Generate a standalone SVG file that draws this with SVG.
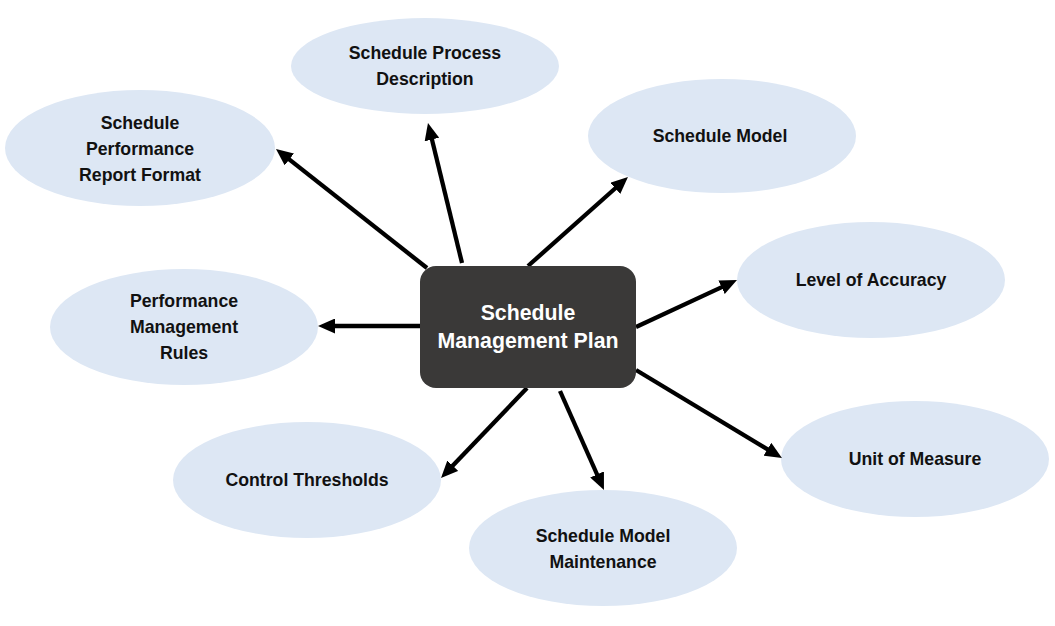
<svg xmlns="http://www.w3.org/2000/svg" width="1055" height="626" viewBox="0 0 1055 626">
<style>
.n{fill:#dde7f4}
.t{font-family:"Liberation Sans",Arial,sans-serif;font-weight:bold;font-size:17.7px;fill:#111;text-anchor:middle}
.c{font-family:"Liberation Sans",Arial,sans-serif;font-weight:bold;font-size:21.3px;fill:#fff;text-anchor:middle}
.a{stroke:#000;stroke-width:4.3;fill:none;marker-end:url(#ah)}
</style>
<defs>
<marker id="ah" markerUnits="userSpaceOnUse" viewBox="0 0 17 15" markerWidth="17" markerHeight="15" refX="5" refY="7.5" orient="auto">
<path d="M0,0 L17,7.5 L0,15 z" fill="#000"/>
</marker>
</defs>
<rect width="1055" height="626" fill="#fff"/>
<g id="spd"><ellipse class="n" cx="425" cy="66" rx="134" ry="48"/><text class="t" x="425" y="59">Schedule Process</text><text class="t" x="425" y="85">Description</text></g>
<g id="sprf"><ellipse class="n" cx="140" cy="148" rx="135" ry="58"/><text class="t" x="140" y="129">Schedule</text><text class="t" x="140" y="155">Performance</text><text class="t" x="140" y="181">Report Format</text></g>
<g id="sm"><ellipse class="n" cx="722" cy="136" rx="134" ry="57"/><text class="t" x="720" y="142">Schedule Model</text></g>
<g id="loa"><ellipse class="n" cx="871" cy="280" rx="134" ry="58"/><text class="t" x="871" y="286">Level of Accuracy</text></g>
<g id="pmr"><ellipse class="n" cx="184" cy="327" rx="134" ry="58"/><text class="t" x="184" y="307">Performance</text><text class="t" x="184" y="333">Management</text><text class="t" x="184" y="359">Rules</text></g>
<g id="ct"><ellipse class="n" cx="307" cy="480" rx="134" ry="58"/><text class="t" x="307" y="486">Control Thresholds</text></g>
<g id="uom"><ellipse class="n" cx="915" cy="459" rx="134" ry="58"/><text class="t" x="915" y="465">Unit of Measure</text></g>
<g id="smm"><ellipse class="n" cx="603" cy="548" rx="134" ry="58"/><text class="t" x="603" y="542">Schedule Model</text><text class="t" x="603" y="568">Maintenance</text></g>
<g id="connectors">
<path class="a" d="M427,268 L285.4,156.4"/>
<path class="a" d="M462,263 L430.8,134.7"/>
<path class="a" d="M528,266 L619,185"/>
<path class="a" d="M636,327 L726.1,285.1"/>
<path class="a" d="M636,370 L771.7,451.8"/>
<path class="a" d="M560,391 L599.1,479"/>
<path class="a" d="M527,388 L449.3,469.3"/>
<path class="a" d="M420,326 L330,326"/>
</g>
<g id="smp"><rect x="420" y="266" width="216" height="122" rx="16" fill="#3a3938"/><text class="c" x="528" y="320">Schedule</text><text class="c" x="528" y="348">Management Plan</text></g>
</svg>
